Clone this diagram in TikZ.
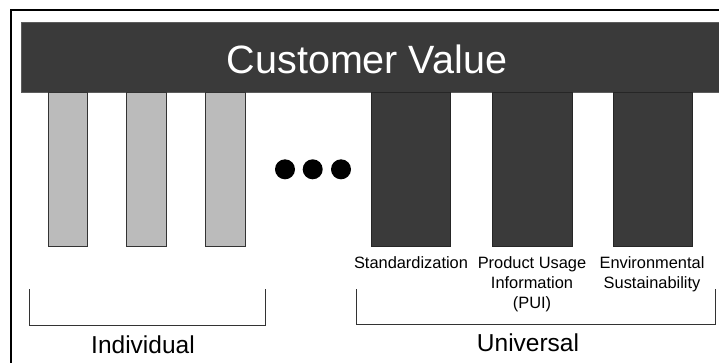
\documentclass[tikz,border=0pt]{standalone}
\usepackage{fontspec}
\setmainfont{Liberation Sans}
\definecolor{darkfill}{HTML}{3A3A3A}
\definecolor{lightfill}{HTML}{BBBBBB}
\definecolor{edgegray}{HTML}{333333}
\begin{document}
\begin{tikzpicture}[x=1pt,y=-1pt,
  topbar/.style={draw=edgegray!80, line width=0.8pt, fill=darkfill, minimum width=702pt, minimum height=70.7pt, inner sep=0pt},
  lightbar/.style={draw=edgegray, line width=1pt, fill=lightfill, minimum width=39.5pt, minimum height=153.6pt, inner sep=0pt},
  darkbar/.style={draw=black!85, line width=1pt, fill=darkfill, minimum width=79.4pt, minimum height=153.6pt, inner sep=0pt},
  dot/.style={circle, fill=black, minimum size=20pt, inner sep=0pt},
  bracket/.style={draw=edgegray, line width=1pt},
  lbl/.style={font=\fontsize{16.4}{20}\selectfont, align=center, inner sep=0pt, anchor=north},
  group/.style={font=\fontsize{24.5}{28}\selectfont, inner sep=0pt, anchor=base}
]
\useasboundingbox (0,0) rectangle (719,362);
\clip (0,0) rectangle (719,362);
% outer frame (cropped at right and bottom)
\draw[line width=2pt] (11,380) -- (11,9.5) -- (740,9.5);
% top bar
\node[topbar] (cvbar) at (372,57.35) {};
\node[font=\fontsize{39.5}{41}\selectfont, text=white, inner sep=0pt] (cv) at (367,59.5) {Customer Value};
% individual bars
\node[lightbar] (i1) at (67.8,169.5) {};
\node[lightbar] (i2) at (146.7,169.5) {};
\node[lightbar] (i3) at (225.5,169.5) {};
% dots
\node[dot] (d1) at (285,169.3) {};
\node[dot] (d2) at (312.7,169.3) {};
\node[dot] (d3) at (341,169.3) {};
% universal bars
\node[darkbar] (u1) at (411.2,169.5) {};
\node[darkbar] (u2) at (532.3,169.5) {};
\node[darkbar] (u3) at (653,169.5) {};
% labels
\node[lbl] (l1) at (411,256.5) {Standardization};
\node[lbl] (l2) at (532,256.5) {Product Usage\\Information\\(PUI)};
\node[lbl] (l3) at (652,256.5) {Environmental\\Sustainability};
% brackets
\coordinate (ia) at (29.3,289.3);
\coordinate (ib) at (265.7,289.3);
\draw[bracket] (ia) -- (29.3,325) -- (265.7,325) -- (ib);
\coordinate (ua) at (356,289.3);
\coordinate (ub) at (715.3,289.3);
\draw[bracket] (ua) -- (356,324.5) -- (715.3,324.5) -- (ub);
% group labels
\node[group] (ind) at (143,353) {Individual};
\node[group] (uni) at (528,351.7) {Universal};
\end{tikzpicture}
\end{document}
